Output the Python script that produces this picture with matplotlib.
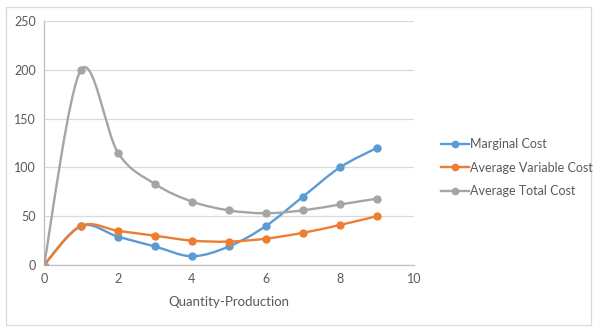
import matplotlib
matplotlib.use("Agg")
import matplotlib.pyplot as plt
from matplotlib.path import Path
from matplotlib.patches import PathPatch, Rectangle
from matplotlib.lines import Line2D
import numpy as np

plt.rcParams['font.family'] = ['Lato', 'DejaVu Sans']

# data
quantity = [0, 1, 2, 3, 4, 5, 6, 7, 8, 9]
marginal_cost = [0, 40, 29, 19, 9, 19, 40, 70, 100, 120]
avg_variable_cost = [0, 40, 35, 30, 25, 24, 27, 33, 41, 50]
avg_total_cost = [0, 200, 115, 83, 65, 56, 53, 56, 62, 68]

series = [
    ("Marginal Cost", marginal_cost, "#5B9BD5"),
    ("Average Variable Cost", avg_variable_cost, "#ED7D31"),
    ("Average Total Cost", avg_total_cost, "#A5A5A5"),
]
text_col = "#595959"


def smooth_path(x, y):
    # Excel-like smoothed line: cubic bezier, Catmull-Rom style tangents
    p = np.column_stack([x, y]).astype(float)
    n = len(p)
    verts = [p[0]]
    codes = [Path.MOVETO]
    for i in range(n - 1):
        p0 = p[i - 1] if i > 0 else p[i]
        p1, p2 = p[i], p[i + 1]
        p3 = p[i + 2] if i + 2 < n else p[i + 1]
        c1 = p1 + (p2 - p0) / 6.0
        c2 = p2 - (p3 - p1) / 6.0
        verts += [c1, c2, p2]
        codes += [Path.CURVE4] * 3
    return Path(verts, codes)


fig = plt.figure(figsize=(5.99, 3.32), dpi=100)
ax = fig.add_axes([0.0735, 0.2018, 0.6175, 0.7349])

handles = []
for name, vals, col in series:
    ax.add_patch(PathPatch(smooth_path(quantity, vals), fill=False,
                           edgecolor=col, lw=1.7, capstyle='round', zorder=3))
    ax.plot(quantity, vals, 'o', color=col, ms=5, zorder=4)
    handles.append(Line2D([], [], color=col, lw=1.7, marker='o', ms=4.5, label=name))

ax.set_xlim(0, 10)
ax.set_ylim(0, 250)
ax.set_xticks(range(0, 11, 2))
ax.set_yticks(range(0, 251, 50))
ax.grid(axis='y', color='#D9D9D9', lw=0.9)
ax.set_axisbelow(True)
for s in ['top', 'right']:
    ax.spines[s].set_visible(False)
for s in ['left', 'bottom']:
    ax.spines[s].set_color('#BFBFBF')
    ax.spines[s].set_linewidth(0.9)
ax.tick_params(length=0, colors=text_col, labelsize=9, pad=6)
ax.set_xlabel("Quantity-Production", color=text_col, fontsize=9.5, labelpad=8)

leg = fig.legend(handles=handles, loc='upper left', bbox_to_anchor=(0.718, 0.617),
                 frameon=False, fontsize=9, labelcolor=text_col, handlelength=2.2,
                 handletextpad=0.1, labelspacing=0.9)

fig.patches.append(Rectangle((6 / 599, 7 / 332), 585 / 599, 318 / 332,
                             transform=fig.transFigure, fill=False,
                             edgecolor='#D9D9D9', lw=0.9))

fig.savefig("out.png", dpi=100)
